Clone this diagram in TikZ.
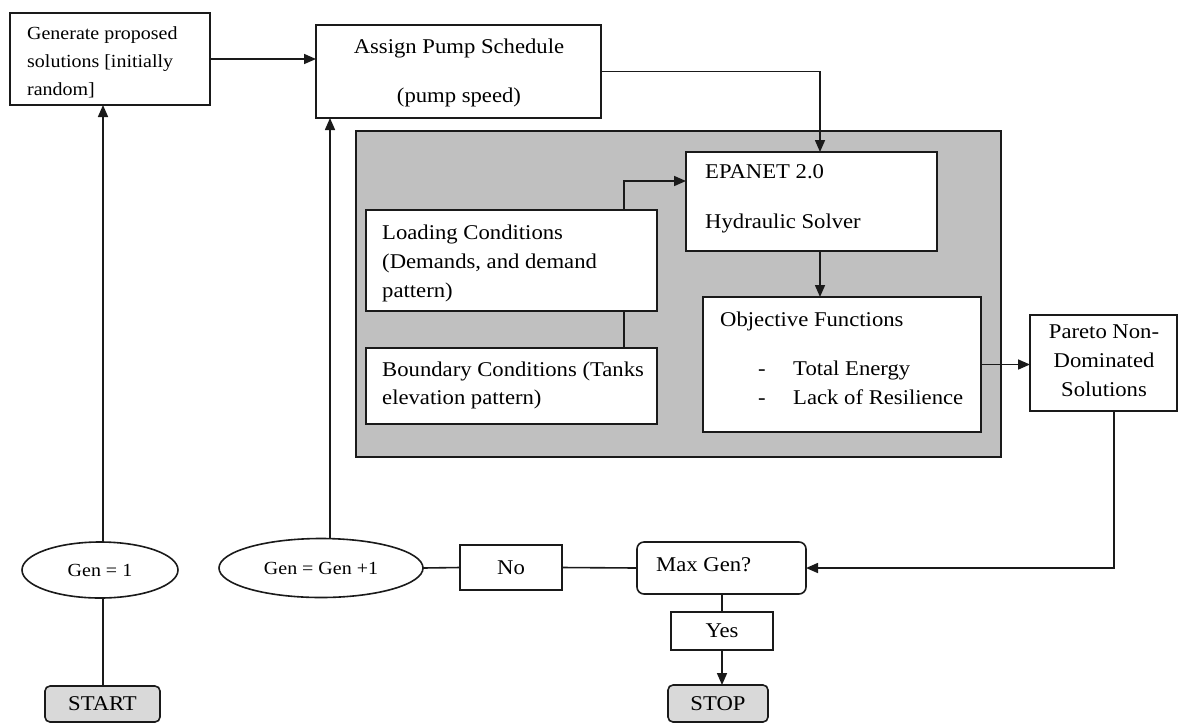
\documentclass[tikz,border=0pt]{standalone}
\usepackage{fontspec}
\setmainfont{Liberation Serif}[FakeStretch=1.08]
\usetikzlibrary{arrows.meta,shapes.geometric}
\definecolor{panelgray}{HTML}{C0C0C0}
\definecolor{termgray}{HTML}{D9D9D9}
\definecolor{linecol}{HTML}{1A1A1A}
\begin{document}
\begin{tikzpicture}[x=1pt,y=-1pt,
  box/.style={draw=linecol, line width=1.6pt, fill=white, inner sep=0pt, outer sep=0pt, anchor=north west},
  term/.style={box, fill=termgray, rounded corners=5pt, font=\mainfs},
  ell/.style={draw=linecol, line width=1.6pt, fill=white, ellipse, inner sep=0pt, outer sep=0pt, font=\smallfs},
  txt/.style={inner sep=0pt, anchor=base west, font=\mainfs},
  ctxt/.style={inner sep=0pt, anchor=base, font=\mainfs},
  stxt/.style={inner sep=0pt, anchor=base west, font=\smallfs},
  conn/.style={draw=linecol, line width=1.6pt},
  arr/.style={conn, -{Triangle[length=12pt,width=10pt]}}
]
\newcommand{\mainfs}{\fontsize{21}{25}\selectfont}
\newcommand{\smallfs}{\fontsize{18.5}{22}\selectfont}
\fill[white] (0,0) rectangle (1188,724);
\useasboundingbox (0,0) rectangle (1188,724);

% helper coordinates
\coordinate (vx) at (820,0);
\coordinate (lx) at (624,0);
\coordinate (ly) at (0,181);
\coordinate (px) at (1114,0);
\coordinate (gx) at (330,0);
\coordinate (sx) at (103,0);

% panel
\node[box, fill=panelgray, minimum width=645pt, minimum height=326pt] (panel) at (356,131) {};

% boxes
\node[box, minimum width=200pt, minimum height=92pt] (gen) at (10,13) {};
\node[box, minimum width=285pt, minimum height=93pt] (assign) at (316,25) {};
\node[box, minimum width=251pt, minimum height=99pt] (epanet) at (686,152) {};
\node[box, minimum width=291pt, minimum height=101pt] (loading) at (366,210) {};
\node[box, minimum width=291pt, minimum height=76pt] (boundary) at (366,348) {};
\node[box, minimum width=278pt, minimum height=135pt] (objective) at (703,297) {};
\node[box, minimum width=147pt, minimum height=96pt] (pareto) at (1030,315) {};
\node[box, rounded corners=7pt, minimum width=169pt, minimum height=52pt] (maxgen) at (637,542) {};
\node[box, minimum width=102pt, minimum height=45pt, font=\mainfs] (no) at (460,545) {No};
\node[box, minimum width=102pt, minimum height=38pt, font=\mainfs] (yes) at (671,612) {Yes};
\node[term, minimum width=100pt, minimum height=37pt] (stop) at (668,685) {STOP};
\node[term, minimum width=115pt, minimum height=36pt] (start) at (45,686) {START};
\node[ell, minimum width=156pt, minimum height=56pt] (gen1) at (100,570) {Gen = 1};
\node[ell, minimum width=204pt, minimum height=59pt] (genplus) at (321,568) {Gen = Gen +1};

% texts
\node[stxt] (t1) at (27,39) {Generate proposed};
\node[stxt] (t2) at (27,67) {solutions [initially};
\node[stxt] (t3) at (27,95) {random]};
\node[ctxt] (t4) at (459,53) {Assign Pump Schedule};
\node[ctxt] (t5) at (459,102) {(pump speed)};
\node[txt] (t6) at (705,178) {EPANET 2.0};
\node[txt] (t7) at (705,228) {Hydraulic Solver};
\node[txt] (t8) at (382,239) {Loading Conditions};
\node[txt] (t9) at (382,268) {(Demands, and demand};
\node[txt] (t10) at (382,297) {pattern)};
\node[txt] (t11) at (382,376) {Boundary Conditions (Tanks};
\node[txt] (t12) at (382,404) {elevation pattern)};
\node[txt] (t13) at (720,326) {Objective Functions};
\node[txt] (t14) at (758,375) {-};
\node[txt] (t15) at (758,404) {-};
\node[txt] (t16) at (793,375) {Total Energy};
\node[txt] (t17) at (793,404) {Lack of Resilience};
\node[ctxt] (t18) at (1104,338) {Pareto Non-};
\node[ctxt] (t19) at (1104,367) {Dominated};
\node[ctxt] (t20) at (1104,396) {Solutions};
\node[txt] (t21) at (656,571) {Max Gen?};

% connectors
\draw[arr] (gen.east) -- (gen.east -| assign.west);
\draw[arr] (assign.east) -| (epanet.north -| vx);
\draw[arr] (loading.north -| lx) |- (epanet.west |- ly);
\draw[conn] (loading.south -| lx) -- (boundary.north -| lx);
\draw[arr] (epanet.south -| vx) -- (objective.north -| vx);
\draw[arr] (objective.east) -- (objective.east -| pareto.west);
\draw[arr] (pareto.south -| px) |- (maxgen.east);
\draw[conn] (maxgen.west) -- (no.east);
\draw[conn] (no.west) -- (genplus.east);
\draw[arr] (genplus.north -| gx) -- (assign.south -| gx);
\draw[conn] (start.north -| sx) -- (gen1.south -| sx);
\draw[arr] (gen1.north -| sx) -- (gen.south -| sx);
\draw[conn] (maxgen.south -| yes.north) -- (yes.north);
\draw[arr] (yes.south) -- (stop.north -| yes.south);
\end{tikzpicture}
\end{document}
